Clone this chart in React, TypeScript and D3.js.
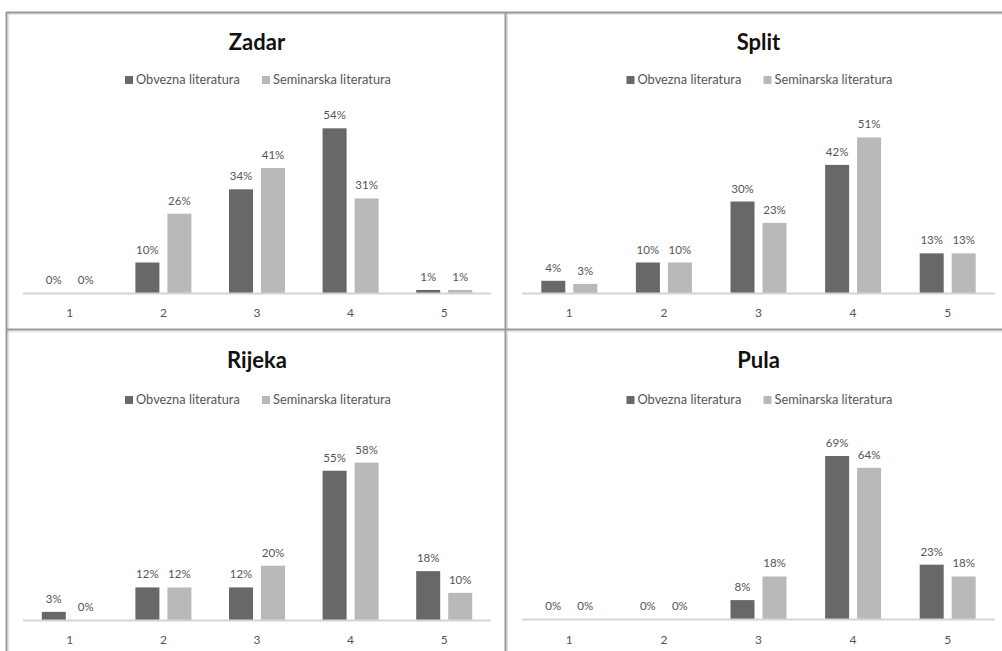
import React from 'react';
import * as d3 from 'd3';

const categories = ['1', '2', '3', '4', '5'];
const seriesNames = ['Obvezna literatura', 'Seminarska literatura'];
const panelTitles = ['Zadar', 'Split', 'Rijeka', 'Pula'];

const zadarObvezna = [0, 10, 34, 54, 1];
const zadarSeminarska = [0, 26, 41, 31, 1];
const splitObvezna = [4, 10, 30, 42, 13];
const splitSeminarska = [3, 10, 23, 51, 13];
const rijekaObvezna = [3, 12, 12, 55, 18];
const rijekaSeminarska = [0, 12, 20, 58, 10];
const pulaObvezna = [0, 0, 8, 69, 23];
const pulaSeminarska = [0, 0, 18, 64, 18];

const axisMax = [60, 60, 70, 80];

const panelValues = [
  [zadarObvezna, zadarSeminarska],
  [splitObvezna, splitSeminarska],
  [rijekaObvezna, rijekaSeminarska],
  [pulaObvezna, pulaSeminarska],
];

const colors = ['#686868', '#b9b9b9'];
const FONT = 'Lato, "Open Sans", sans-serif';

// layout of each panel (x-range of axis, baseline, top of plot, title & legend y)
const layouts = [
  { x0: 23, x1: 491, base: 293, top: 110, titleY: 50, legendY: 80, catY: 317 },
  { x0: 522, x1: 995, base: 293, top: 110, titleY: 50, legendY: 80, catY: 317 },
  { x0: 23, x1: 491, base: 620, top: 430, titleY: 368, legendY: 400, catY: 644 },
  { x0: 522, x1: 995, base: 619, top: 430, titleY: 368, legendY: 400, catY: 644 },
];

function Panel({ idx }: { idx: number }) {
  const L = layouts[idx];
  const vals = panelValues[idx];
  const x = d3.scaleBand<string>().domain(categories).range([L.x0, L.x1]).paddingInner(0).paddingOuter(0);
  const sub = d3.scaleBand<string>().domain(seriesNames).range([-28, 28]).paddingInner(0.25);
  const y = d3.scaleLinear().domain([0, axisMax[idx]]).range([L.base, L.top]);
  const cx = (L.x0 + L.x1) / 2;
  return (
    <g>
      <text x={cx} y={L.titleY} textAnchor="middle" fontFamily={FONT} fontWeight={700} fontSize={22} fill="#111">
        {panelTitles[idx]}
      </text>
      {seriesNames.map((s, si) => {
        const sx = si === 0 ? cx - 132 : cx + 5;
        return (
          <g key={s}>
            <rect x={sx} y={L.legendY - 4} width={8} height={8} fill={colors[si]} />
            <text x={sx + 11} y={L.legendY + 4} fontFamily={FONT} fontSize={12.8} fill="#555">
              {s}
            </text>
          </g>
        );
      })}
      {categories.map((c, ci) => {
        const center = (x(c) as number) + x.bandwidth() / 2;
        return (
          <g key={c}>
            {seriesNames.map((s, si) => {
              const v = vals[si][ci];
              const bx = center + (sub(s) as number);
              const bw = sub.bandwidth();
              const top = y(v);
              return (
                <g key={s}>
                  {v > 0 && <rect x={bx} y={top} width={bw} height={L.base - top} fill={colors[si]} />}
                  <text x={bx + bw / 2} y={top - 9} textAnchor="middle" fontFamily={FONT} fontSize={11.5} fill="#555">
                    {v + '%'}
                  </text>
                </g>
              );
            })}
            <text x={center} y={L.catY} textAnchor="middle" fontFamily={FONT} fontSize={12} fill="#555">
              {c}
            </text>
          </g>
        );
      })}
      <line x1={L.x0} x2={L.x1} y1={L.base + 0.5} y2={L.base + 0.5} stroke="#d4d4d4" strokeWidth={2} />
    </g>
  );
}

export default function App() {
  return (
    <svg
      width={1002}
      height={651}
      style={{ position: 'absolute', left: 0, top: 0, background: '#fff' }}
    >
      <rect x={0} y={0} width={1002} height={651} fill="#fff" />
      {/* inner soft shadows */}
      <line x1={8} x2={1002} y1={14} y2={14} stroke="#e2e2e2" strokeWidth={1.5} />
      <line x1={8.5} x2={8.5} y1={13} y2={651} stroke="#e2e2e2" strokeWidth={1.5} />
      <line x1={507.5} x2={507.5} y1={13} y2={651} stroke="#e2e2e2" strokeWidth={1.5} />
      <line x1={7} x2={1002} y1={331.5} y2={331.5} stroke="#e2e2e2" strokeWidth={1.5} />
      {/* borders */}
      <line x1={6} x2={1002} y1={12.5} y2={12.5} stroke="#999" strokeWidth={2} />
      <line x1={6.5} x2={6.5} y1={12} y2={651} stroke="#999" strokeWidth={2} />
      <line x1={505.5} x2={505.5} y1={12} y2={651} stroke="#999" strokeWidth={2} />
      <line x1={6} x2={1002} y1={329.5} y2={329.5} stroke="#999" strokeWidth={2} />
      {[0, 1, 2, 3].map((i) => (
        <Panel key={i} idx={i} />
      ))}
    </svg>
  );
}
